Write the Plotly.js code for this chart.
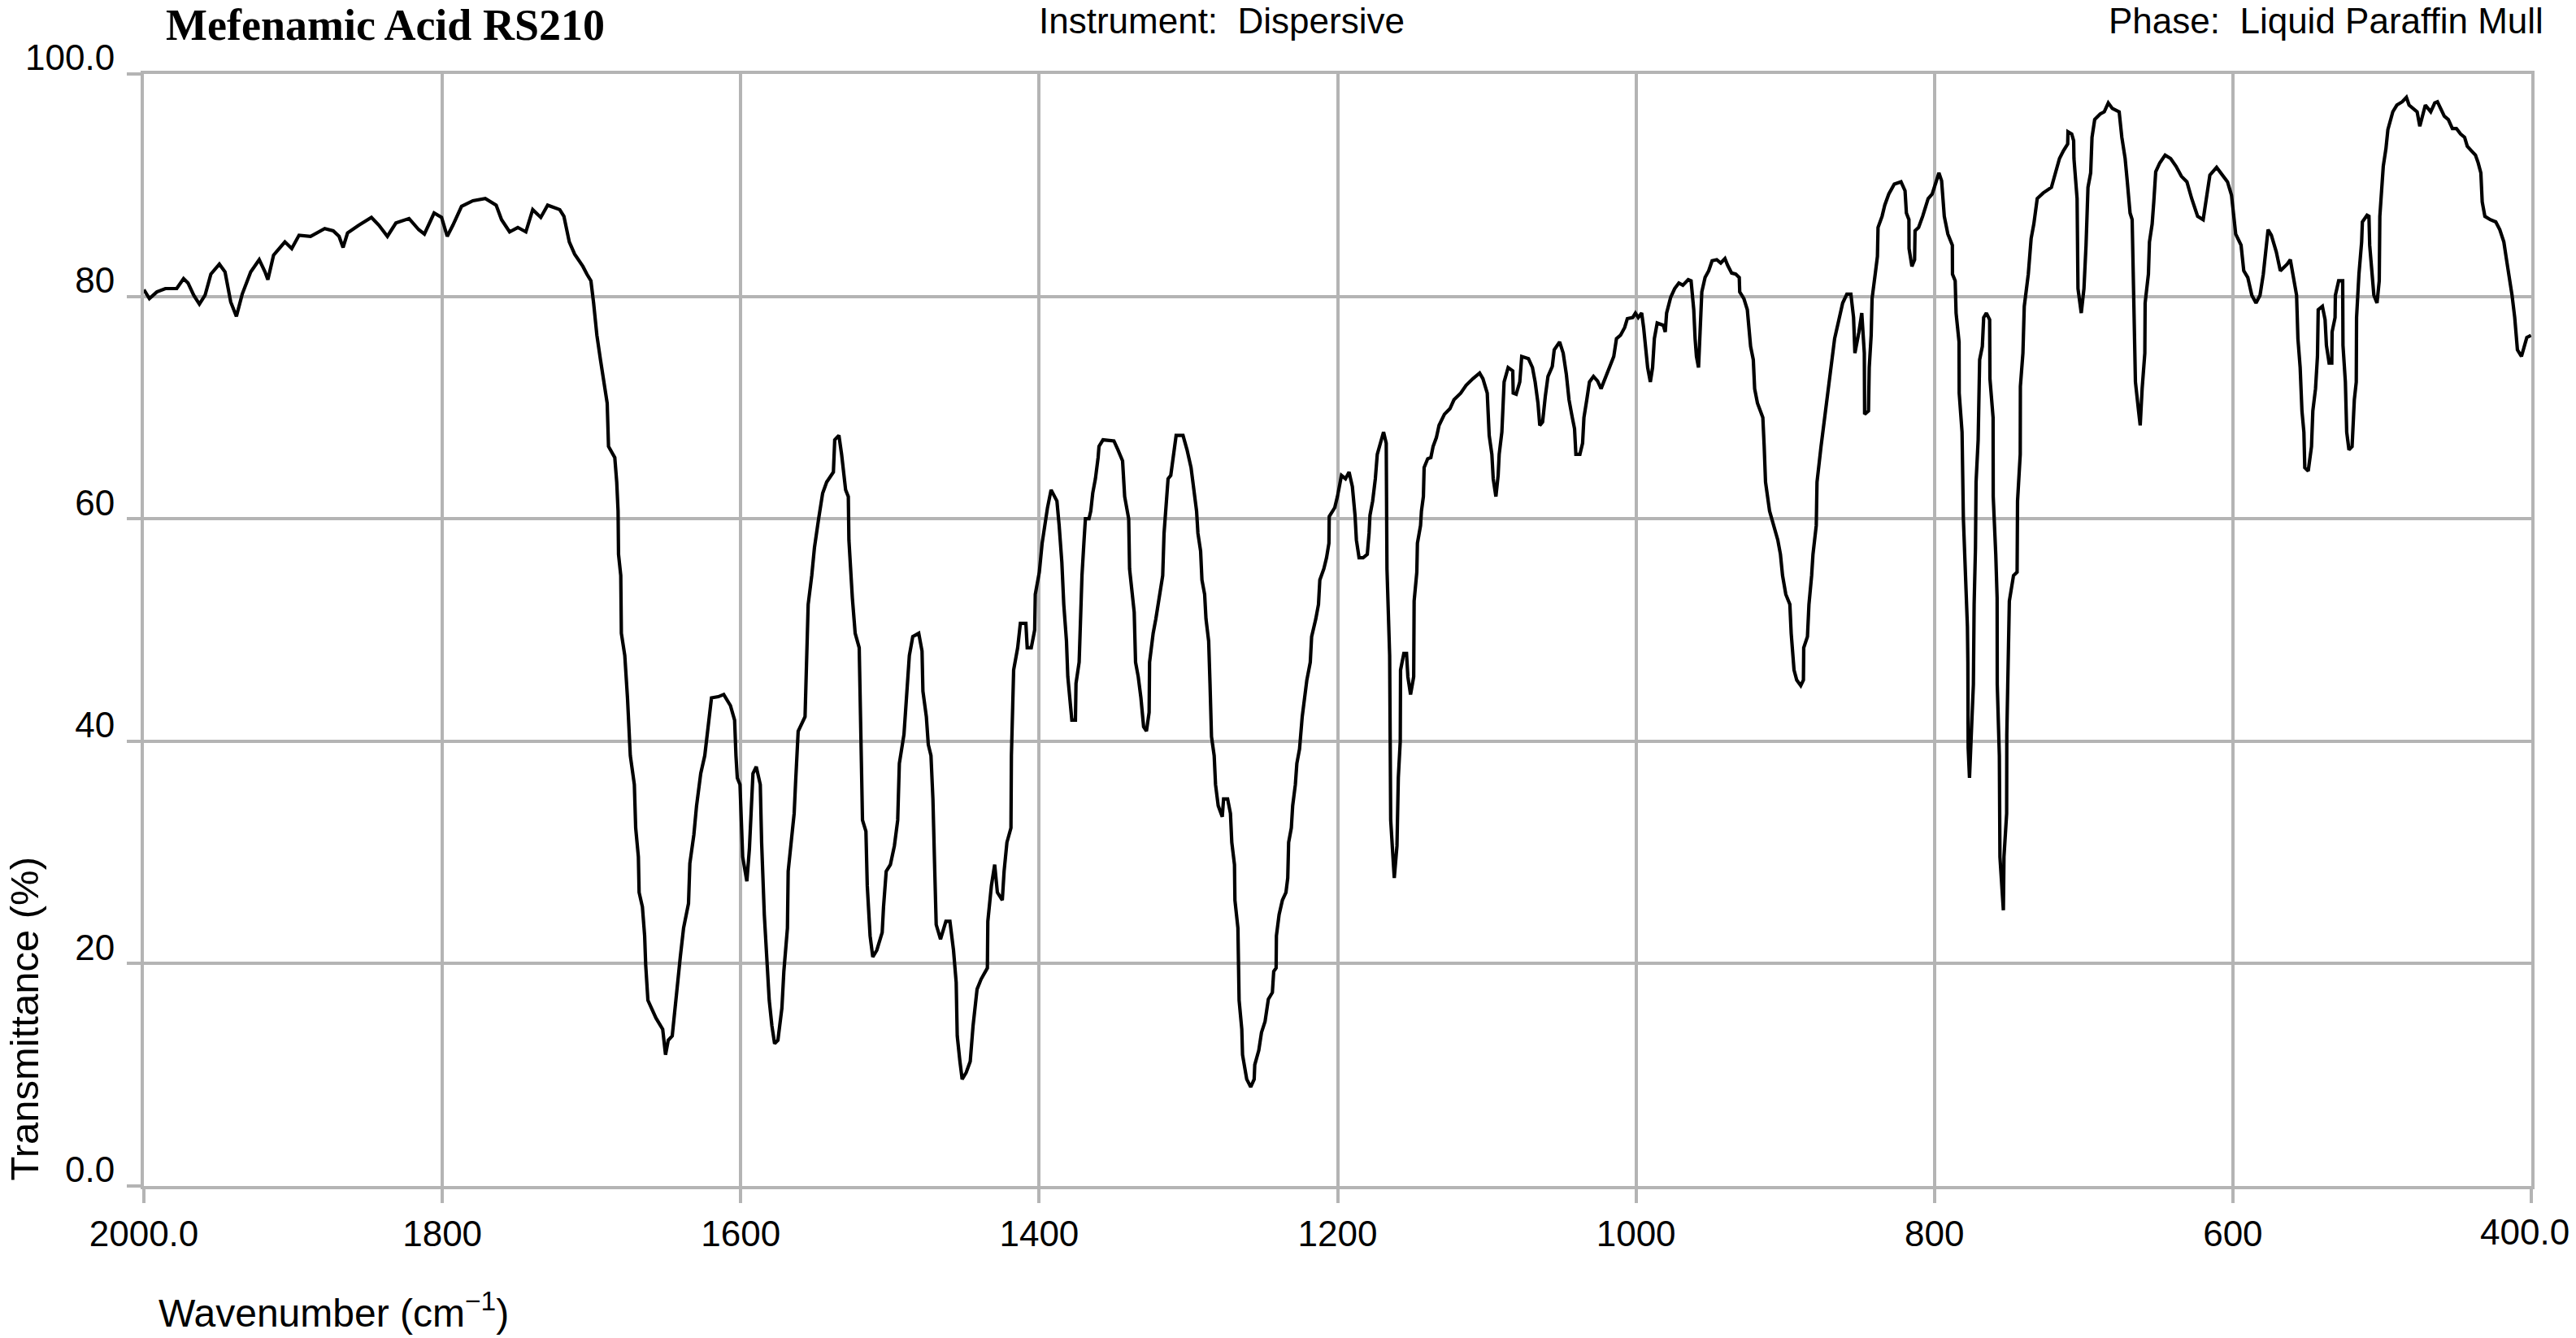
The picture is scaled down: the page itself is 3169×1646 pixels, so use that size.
<!DOCTYPE html>
<html>
<head>
<meta charset="utf-8">
<script src="https://cdn.plot.ly/plotly-3.0.1.min.js"></script>
<style>
    body { margin: 0; background: #ffffff; }
    #chart { width: 3169px; height: 1646px; }
</style>
</head>
<body>
<div id="chart"></div>
<script>
// IR spectrum (wavenumber in cm-1, transmittance in %)
let wavenumber = [
    2000,1996.3,1991.3,1985.6,1978,1973.4,1970.4,1966.6,1962.8,1959,1955.1,1949.4,1945.6,1941.8,1938,1934.1,
    1928.4,1922.7,1918.8,1916.9,1913.1,1905.5,1900.9,1896,1888.3,1878.8,1873.1,1869.2,1866.5,1863.5,1855.9,
    1847.5,1842.5,1836.8,1831.1,1822.3,1815.8,1812,1805.5,1800.5,1796.7,1792.9,1787.1,1779.5,
    1771.2,1763.9,1760.3,1754.9,1749.4,1744.0,1739.4,1734.0,1729.4,1721.3,1718.5,1714.9,1711.3,1708.6,1705.8,
    1703.1,1700.4,1698.6,1696.4,1694.0,1691.7,1689.5,1688.6,1684.4,1683.1,1682.2,1681.9,1680.4,1680.0,1677.7,
    1675.9,1674.0,1671.3,1670.4,1668.6,1668.1,1665.9,1664.4,1663.7,1662.2,1656.8,1652.3,1650.4,1648.6,1645.9,
    1644.1,1641.9,1640.5,1638.3,1635.0,1634.1,1631.4,1629.6,1626.8,1624.1,1621.9,1619.6,1615.0,1611.4,1606.9,
    1604.1,1603.2,1602.3,1600.5,1598.7,1595.9,1594.2,1591.8,1589.6,1586.9,1586.0,1584.2,1582.0,1580.9,1579.1,
    1577.3,1575.1,1572.4,1571.1,1568.7,1568.2,1566.0,1564.2,1563.3,1561.5,1556.9,1555.5,1554.8,1552.4,1550.6,
    1547.8,1545.1,
    1542.4,1537.9,1537.0,1534.2,1532.4,1529.7,1527.9,1527.5,1525.2,1523.3,1520.6,1519.7,1518.4,1516.1,1515.2,
    1513.3,1511.5,1508.8,1505.2,1504.3,1502.5,1499.7,1497.0,1494.8,1493.7,1490.6,1488.8,1487.0,1484.7,1480.7,
    1478.5,1477.9,1475.6,1474.3,1472.5,1471.2,1470.1,1469.8,1469.0,1466.1,1462.5,1459.8,1457.4,1455.6,1454.9,
    1453.1,1451.6,1448.9,1446.2,1444.3,1441.6,1438.9,1434.7,1434.4,1432.0,1429.8,1428.0,1424.7,1423.5,1421.6,
    1418.9,1418.6,1417.1,1414.4,1412.6,1408.9,1408.0,1405.3,1403.0,1402.6,1399.9,1398.0,1396.2,1394.4,1392.0,
    1388.1,1386.6,1384.8,1383.5,1381.7,1380.8,1379.3,1378.1,1375.7,1375.3,1373.2,1372.1,1371.3,1369.9,1369.0,
    1366.6,1365.4,1364.1,1362.3,1360.5,1359.9,1357.2,1352.6,1349.9,1347.2,1344.1,1342.7,1340.0,1339.4,1337.2,
    1336.3,1335.4,1333.6,1331.8,1330.0,1328.1,1326.3,1326.0,1323.6,1321.8,1320.0,1317.2,1316.3,1314.5,
    1313.6,1311.8,1310.0,1308.2,1303.6,1300.9,1298.2,1296.4,1294.5,1293.6,1291.8,1290.9,1289.1,1288.2,1286.4,
    1285.5,1284.5,1282.7,1281.8,1280.0,1277.3,1276.4,1273.7,1271.8,1270.9,1269.1,1268.8,1266.8,1266.0,1264.2,
    1263.7,1260.9,1258.2,1255.9,1255.5,1252.8,1251.0,1248.6,1246.4,1243.7,1242.8,1241.2,1241.0,1239.2,1237.0,
    1234.6,1233.4,1232.8,1231.0,1230.1,1228.3,1227.3,1225.5,1223.7,1221.9,1220.6,1218.3,1217.4,1214.6,1212.8,
    1211.9,1209.2,1207.4,1205.8,1205.6,1201.9,1200.1,1197.4,1194.7,1192.3,1190.1,1188.3,1187.4,1185.6,1182.9,
    1180.1,1178.9,1178.3,1176.5,1174.7,1173.4,1171.1,1169.2,1167.4,1166.9,1165.1,1164.7,1164.4,1162.9,1162.0,
    1160.2,1159.3,1158.0,1157.8,1155.6,1153.8,1152.9,1151.1,1149.0,1148.7,1146.9,1146.5,1144.4,1143.8,1142.5,
    1142.0,1139.6,1137.5,1136.0,1133.8,1132.0,1128.4,1124.7,1122.0,1117.5,1113.9,1109.3,1104.8,1102.6,1099.7,
    1098.4,1096.6,1095.7,1093.9,1092.4,1091.7,1089.9,1088.4,1085.7,
    1082.6,1082.3,1080.3,1077.9,1076.6,1072.1,1069.4,1067.6,1065.7,1064.5,1062.6,1060.8,1059.0,1056.1,1054.8,
    1051.2,1048.8,1046.7,1044.9,1042.7,1041.2,1040.3,1037.6,1035.8,1034.9,1033.0,1031.2,1028.5,1025.8,1023.4,
    1021.6,1019.4,1016.7,1014.9,1013.1,1010.4,1007.6,1005.8,1002.2,1000.4,998.5,996.2,994.9,993.1,992.2,
    990.4,988.9,987.7,985.8,981.7,980.4,979.5,976.8,974.1,971.3,968.6,965.0,963.1,961.3,960.4,
    959.5,958.1,956.8,955.9,953.7,951.3,949.0,945.9,943.2,940.4,938.6,935.9,933.2,930.8,930.5,
    927.7,925.4,924.1,923.2,921.4,920.5,918.6,915.0,914.1,913.2,910.5,907.8,905.0,903.2,901.8,
    899.6,896.9,896.0,894.5,894.1,892.3,889.6,887.8,887.6,885.1,884.1,882.3,881.4,879.2,878.7,
    876.0,874.2,872.3,870.5,868.7,866.9,864.2,861.5,858.7,
    856.0,854.2,853.3,850.6,848.7,847.0,846.8,844.2,843.7,842.4,841.8,839.7,838.2,837.8,835.1,
    833.3,830.6,826.9,822.4,819.7,818.8,817.1,817.0,815.1,813.3,813.0,810.6,807.9,804.2,801.5,
    798.8,797.0,795.2,793.4,791.0,788.0,787.9,786.1,785.5,783.5,783.4,781.5,780.6,778.8,777.9,
    777.6,777.4,776.5,775.2,773.9,773.4,772.5,772.1,770.7,769.7,767.9,767.0,765.2,763.0,762.8,
    760.7,760.6,758.9,758.0,757.9,756.5,756.1,753.8,753.4,751.6,751.5,750.3,749.8,747.0,744.6,
    744.3,742.5,742.4,740.7,739.8,737.1,735.2,733.4,731.1,727.1,721.6,718.9,716.2,713.5,710.7,
    710.5,708.0,706.7,706.5,704.4,703.8,701.6,699.8,698.4,697.1,695.3,694.4,692.6,688.9,686.2,
    683.5,680.8,676.2,674.4,672.2,670.8,668.9,667.5,666.2,665.3,663.2,662.1,660.8,659.0,658.8,
    656.6,655.9,654.1,653.0,651.7,649.0,645.4,641.7,638.1,634.5,630.8,627.6,
    623.6,619.9,617.2,615.4,610.9,607.2,603.6,600.9,598.1,594.5,592.7,590.0,587.3,584.5,581.8,
    579.6,578.2,576.4,574.2,570.9,568.2,563.6,561.5,559.1,557.3,556.4,554.9,553.7,552.4,551.8,
    549.5,547.3,546.4,544.6,543.3,542.8,540.0,538.2,537.3,535.5,533.7,533.5,531.5,531.3,529.1,
    526.4,526.2,524.6,523.7,522.2,520.1,518.6,517.3,517.1,515.5,513.7,513.2,510.1,508.8,508.3,
    506.4,505.5,503.4,501.9,501.5,500.1,499.2,497.4,496.1,492.8,490.1,486.5,483.7,481.9,478.3,
    476.5,474.7,472.5,471.0,469.2,467.4,464.7,462.9,461.1,458.3,455.6,452.9,450.2,447.4,444.7,
    442.9,440.2,437.4,435.6,433.8,432.9,431.1,427.5,423.8,421.1,418.4,416.6,414.7,412.9,411.1,
    409.3,406.6,404.8,403.0,400.2
];

let transmittance = [
    80.6,79.8,80.4,80.7,80.7,81.6,81.2,80.1,79.3,80.1,82.0,82.9,82.2,79.5,78.2,80.2,
    82.2,83.3,82.2,81.5,83.7,84.9,84.3,85.5,85.4,86.1,85.9,85.4,84.4,85.7,86.4,
    87.1,86.4,85.4,86.6,87.0,86.0,85.6,87.5,87.1,85.4,86.4,88.1,88.6,
    88.8,88.2,86.9,85.8,86.2,85.8,87.8,87.1,88.2,87.8,87.2,84.9,83.8,83.3,82.7,
    82.0,81.4,79.4,76.5,74.3,72.3,70.4,66.5,65.5,63.3,60.7,56.8,54.9,49.7,47.7,
    43.9,38.7,36.1,32.2,29.6,26.4,25.1,22.5,19.9,16.7,15.1,14.1,11.8,13.1,13.5,
    16.0,18.6,20.6,23.2,25.4,29.0,31.6,34.2,37.1,38.7,41.3,43.9,44.0,44.2,43.2,
    41.9,38.7,36.7,36.1,29.6,27.4,30.3,37.1,37.7,36.1,30.9,24.4,19.9,16.7,14.4,
    12.8,13.1,16.0,19.3,23.2,28.3,30.9,33.5,36.1,40.9,42.2,47.7,52.3,54.9,57.4,
    60.0,62.3,
    63.3,64.2,67.1,67.5,65.8,62.6,62.0,58.1,52.9,49.7,48.4,40.6,32.9,31.9,27.0,
    22.5,20.6,21.2,22.8,25.1,28.3,28.9,30.6,32.9,38.0,40.6,43.9,47.7,49.4,49.7,
    48.1,44.5,42.2,39.7,38.7,34.8,29.0,27.0,23.5,22.2,23.8,23.8,21.2,18.3,13.5,
    11.2,9.6,10.2,11.2,14.4,17.7,18.6,19.6,23.8,27.0,28.9,26.4,25.7,28.3,30.9,
    32.2,38.7,46.4,48.4,50.6,50.6,48.4,48.4,50.0,53.2,55.2,57.8,59.4,61.0,62.6,
    61.6,59.4,56.1,52.3,49.0,45.8,43.9,41.9,41.9,45.2,47.1,51.6,54.9,58.1,60.0,
    60.0,60.7,62.3,63.6,65.5,66.5,67.1,67.0,67.0,66.2,65.2,62.0,60.0,55.5,52.9,
    51.6,47.1,45.8,43.9,41.3,40.9,42.6,47.1,49.7,51.0,52.6,54.9,58.7,62.6,
    63.6,63.9,65.8,67.5,67.5,66.2,64.6,62.6,60.7,58.7,57.1,54.5,53.2,51.0,49.0,
    45.2,40.4,38.7,36.1,34.2,33.2,34.8,34.8,33.5,30.9,28.9,25.7,23.2,16.7,14.1,
    11.8,9.6,8.9,9.6,10.9,12.2,13.8,14.8,16.8,17.4,19.3,19.6,22.5,24.4,25.7,
    26.4,27.7,30.9,32.2,34.2,36.1,38.0,39.3,42.2,43.9,45.5,47.1,49.4,51.0,52.3,
    54.5,55.5,56.5,57.8,60.2,61.0,62.0,63.9,63.6,64.2,62.9,60.3,58.1,56.5,56.5,
    56.8,58.7,60.3,61.6,63.6,65.8,66.8,67.8,66.8,55.5,47.7,40.0,32.9,29.6,27.7,
    30.6,36.7,40.0,46.4,47.9,47.9,45.8,44.2,45.8,52.6,55.2,57.8,59.4,60.7,62.0,
    64.6,65.4,65.5,66.5,67.3,68.4,69.4,69.9,70.7,71.3,72.0,72.6,73.1,72.6,71.3,
    67.5,65.8,63.6,62.0,63.9,65.8,67.8,72.3,73.6,
    73.3,71.3,71.2,72.3,74.6,74.4,73.6,72.3,70.4,68.4,68.7,71.0,72.8,73.7,75.2,
    75.9,74.9,73.0,70.7,69.1,68.1,65.8,65.8,66.8,69.1,70.7,72.3,72.8,72.4,71.7,
    72.3,73.0,73.9,74.6,76.2,76.5,77.2,78.0,78.1,78.5,78.1,78.5,77.2,75.2,73.6,
    72.3,73.6,76.2,77.6,77.4,76.8,78.5,79.9,80.7,81.2,81.0,81.5,81.4,78.8,76.2,
    74.6,73.6,77.2,80.4,81.7,82.3,83.2,83.3,83.0,83.4,82.8,82.1,82.0,81.7,80.4,
    79.8,78.8,76.8,75.5,74.3,71.7,70.4,69.1,66.5,63.3,60.7,59.4,58.1,56.8,54.9,
    53.2,52.3,49.7,47.7,46.4,45.5,45.0,45.5,48.4,49.4,52.3,54.9,56.8,59.4,63.3,
    66.5,68.4,70.4,72.9,74.2,76.2,77.8,79.4,80.2,
    80.2,78.1,74.9,76.8,78.5,74.9,69.4,69.7,73.6,76.5,79.8,82.0,83.6,86.2,87.2,
    88.2,89.2,90.1,90.3,89.5,87.5,86.9,84.3,82.7,83.3,85.9,86.2,87.2,88.8,89.2,
    90.4,91.1,90.4,87.2,85.6,84.6,82.0,81.4,78.5,75.9,71.3,67.8,60.0,54.2,50.3,
    47.1,39.4,36.7,40.9,45.1,52.3,57.4,63.3,67.1,74.3,75.5,78.1,78.5,77.9,72.6,
    69.1,62.0,56.8,52.9,45.1,38.7,29.6,24.8,29.6,33.5,40.6,47.1,52.6,54.9,55.2,
    61.6,65.8,71.9,74.9,79.1,82.0,85.2,86.5,88.8,89.3,89.8,91.1,92.4,93.1,93.7,
    94.8,94.6,94.0,92.4,88.8,80.7,78.5,80.7,84.6,89.8,91.1,94.3,95.9,96.4,96.6,
    97.4,96.9,96.6,94.3,92.4,90.4,87.5,86.9,78.8,72.3,69.7,68.4,71.7,74.9,79.4,
    82.0,84.9,86.5,88.5,91.2,92.0,92.7,92.4,91.7,90.8,90.3,88.8,
    87.2,86.9,89.1,90.9,91.6,90.9,90.3,89.1,85.6,84.6,82.3,81.7,80.1,79.4,80.1,
    82.0,83.6,86.0,85.5,84.0,82.3,82.9,83.3,81.4,80.1,76.2,73.6,69.7,67.8,64.6,
    64.3,66.5,69.7,71.7,74.6,78.8,79.1,77.9,75.6,74.0,74.0,76.8,78.1,80.1,81.4,
    81.4,75.6,72.3,67.8,66.2,66.5,70.7,72.3,78.1,82.0,84.9,86.7,87.3,87.2,84.6,
    82.0,80.1,79.4,81.4,87.2,89.5,91.7,93.3,95.0,96.6,97.2,97.5,97.9,97.2,96.8,
    96.6,95.3,96.3,97.2,96.9,96.6,97.4,97.5,97.0,96.2,95.9,95.1,95.1,94.6,94.3,
    93.5,93.1,92.7,92.0,91.1,88.5,87.2,86.9,86.7,86.0,84.9,83.3,81.7,80.1,78.1,
    75.2,74.6,75.5,76.3,76.5
];

// axis ticks
let xTickVals = [2000, 1800, 1600, 1400, 1200, 1000, 800, 600, 400];
let xTickText = ['2000.0', '1800', '1600', '1400', '1200', '1000', '800', '600', '400.0'];
let yTickVals = [0, 20, 40, 60, 80, 100];
let yTickText = ['0.0', '20', '40', '60', '80', '100.0'];

let sans = 'Liberation Sans, Arial, sans-serif';
let gridGray = '#b4b4b4';
let tickSize = 44;

let trace = {
    x: wavenumber,
    y: transmittance,
    type: 'scatter',
    mode: 'lines',
    line: { color: '#000000', width: 4.2 },
    hoverinfo: 'x+y'
};

let axis = () => ({
    showgrid: true,
    gridcolor: gridGray,
    gridwidth: 4,
    zeroline: false,
    showline: true,
    mirror: true,
    linecolor: gridGray,
    linewidth: 4,
    ticks: 'outside',
    ticklen: 17,
    tickwidth: 4,
    tickcolor: gridGray,
    tickfont: { family: sans, size: tickSize, color: '#000000' }
});

// the right-most x label would run past the page edge when centred on its tick,
// so the axis leaves it blank and an annotation draws it right-aligned instead
let lastX = xTickVals.length - 1;
let xaxis = Object.assign(axis(), {
    range: [2000, 400],
    tickmode: 'array',
    tickvals: xTickVals,
    ticktext: xTickText.map((t, i) => i === lastX ? '' : t),
    ticklabelstandoff: 0
});

let yaxis = Object.assign(axis(), {
    range: [0, 100],
    tickmode: 'array',
    tickvals: yTickVals,
    ticktext: yTickText,
    ticklabelstandoff: 6,
    ticklabelshift: -20
});

let pageTop = 1459 / 1368;   // paper y of the page top

let layout = {
    width: 3169,
    height: 1646,
    autosize: false,
    margin: { l: 177, r: 55, t: 91, b: 187 },
    paper_bgcolor: '#ffffff',
    plot_bgcolor: '#ffffff',
    showlegend: false,
    xaxis: xaxis,
    yaxis: yaxis,
    annotations: [
        {   // sample name, top left
            text: '<b>Mefenamic Acid RS210</b>',
            xref: 'paper', yref: 'paper', x: 0.0088, y: pageTop,
            xanchor: 'left', yanchor: 'top', showarrow: false, borderpad: 0,
            font: { family: 'Liberation Serif, Times New Roman, serif', size: 54, color: '#000000' }
        },
        {
            text: 'Instrument:\u00a0 Dispersive',
            xref: 'paper', yref: 'paper', x: 0.4516, y: pageTop,
            xanchor: 'center', yanchor: 'top', showarrow: false, borderpad: 0,
            font: { family: sans, size: tickSize, color: '#000000' }
        },
        {
            text: 'Phase:\u00a0 Liquid Paraffin Mull',
            xref: 'paper', yref: 'paper', x: 1.0054, y: pageTop,
            xanchor: 'right', yanchor: 'top', showarrow: false, borderpad: 0,
            font: { family: sans, size: tickSize, color: '#000000' }
        },
        {
            text: xTickText[lastX],
            xref: 'x', yref: 'paper', x: xTickVals[lastX], y: 0,
            xanchor: 'right', yanchor: 'top', xshift: 48, yshift: -31,
            showarrow: false, borderpad: 0,
            font: { family: sans, size: tickSize, color: '#000000' }
        },
        {   // axis titles are placed by hand, the original has them off-centre
            text: 'Wavenumber (cm<sup>\u22121</sup>)',
            xref: 'paper', yref: 'paper', x: 0.0054, y: -0.1118,
            xanchor: 'left', yanchor: 'middle', showarrow: false,
            font: { family: sans, size: 48, color: '#000000' }
        },
        {
            text: 'Transmittance (%)',
            xref: 'paper', yref: 'paper', x: -0.0502, y: 0.003,
            xanchor: 'center', yanchor: 'bottom', textangle: -90, showarrow: false,
            font: { family: sans, size: 49, color: '#000000' }
        }
    ]
};

Plotly.newPlot('chart', [trace], layout, { staticPlot: true, displayModeBar: false });
</script>
</body>
</html>
